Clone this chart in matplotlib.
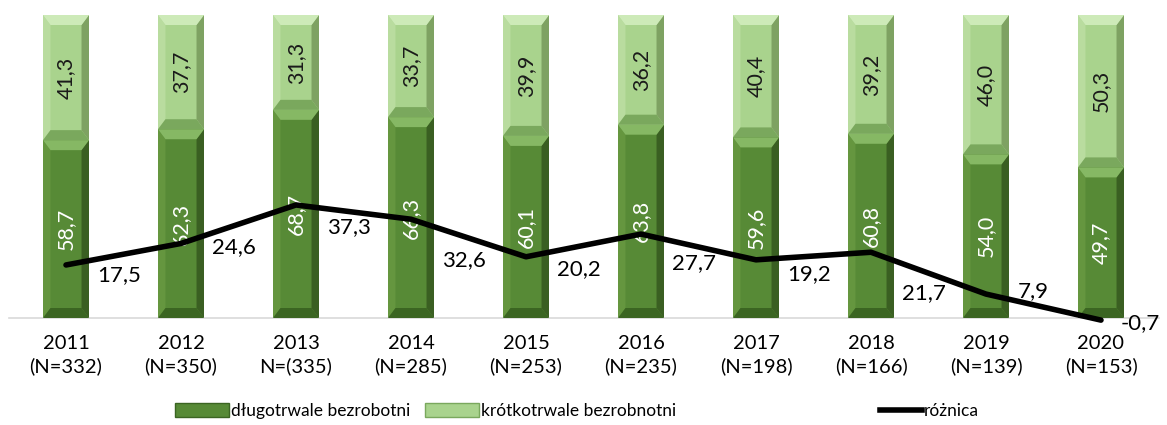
import matplotlib
matplotlib.use("Agg")
import matplotlib.pyplot as plt
from matplotlib.patches import Polygon, Patch
from matplotlib.lines import Line2D
import numpy as np

years = ["2011", "2012", "2013", "2014", "2015", "2016", "2017", "2018", "2019", "2020"]
n_labels = ["(N=332)", "(N=350)", "N=(335)", "(N=285)", "(N=253)", "(N=235)", "(N=198)", "(N=166)", "(N=139)", "(N=153)"]
long_term = [58.7, 62.3, 68.7, 66.3, 60.1, 63.8, 59.6, 60.8, 54.0, 49.7]
short_term = [41.3, 37.7, 31.3, 33.7, 39.9, 36.2, 40.4, 39.2, 46.0, 50.3]
difference = [17.5, 24.6, 37.3, 32.6, 20.2, 27.7, 19.2, 21.7, 7.9, -0.7]

# label offsets (pixels) for the difference labels
diff_dx = [31, 31, 31, 31, 31, 31, 31, 31, 32, 20]
diff_dy = [10, 4, 22, 41, 12, 29, 14, 41, -3, 3]

plt.rcParams['font.family'] = ['Lato', 'DejaVu Sans']

W, H = 1167, 425
fig = plt.figure(figsize=(W / 100, H / 100), dpi=100)
ax = fig.add_axes([8.5 / W, 107 / H, 1150 / W, 303 / H])

x = np.arange(len(years))
bw = 0.4
dark = "#578a36"
light = "#a9d38d"

b1 = ax.bar(x, long_term, bw, color=dark, zorder=2)
b2 = ax.bar(x, short_term, bw, bottom=long_term, color=light, zorder=2)

# bevel effect
bx = 0.065   # horizontal bevel in data units
by = 3.3     # vertical bevel in data units

def bevel(rect, top_c, bot_c, left_c, right_c):
    x0, y0 = rect.get_x(), rect.get_y()
    w, h = rect.get_width(), rect.get_height()
    x1, y1 = x0 + w, y0 + h
    polys = [
        ([(x0, y0), (x0, y1), (x0 + bx, y1 - by), (x0 + bx, y0 + by)], left_c),
        ([(x1, y0), (x1, y1), (x1 - bx, y1 - by), (x1 - bx, y0 + by)], right_c),
        ([(x0, y1), (x1, y1), (x1 - bx, y1 - by), (x0 + bx, y1 - by)], top_c),
        ([(x0, y0), (x1, y0), (x1 - bx, y0 + by), (x0 + bx, y0 + by)], bot_c),
    ]
    for pts, c in polys:
        ax.add_patch(Polygon(pts, closed=True, facecolor=c, edgecolor='none', zorder=3))

for r in b1:
    bevel(r, "#86b864", "#3b6522", "#65963f", "#3a5f22")
for r in b2:
    bevel(r, "#cdeab8", "#7aa85d", "#b9dc9f", "#7ea262")

# value labels inside bars
for i in range(len(years)):
    ax.text(x[i], long_term[i] / 2, f"{long_term[i]:.1f}".replace('.', ','),
            rotation=90, ha='center', va='center', color='white', fontsize=15.5, zorder=5)
    ax.text(x[i], long_term[i] + short_term[i] / 2, f"{short_term[i]:.1f}".replace('.', ','),
            rotation=90, ha='center', va='center', color='#1a1a1a', fontsize=15.5, zorder=5)

# difference line
ax.plot(x, difference, color='black', lw=4, zorder=6, clip_on=False, solid_capstyle='round')
for i in range(len(years)):
    ax.annotate(f"{difference[i]:.1f}".replace('.', ','), xy=(x[i], difference[i]),
                xytext=(diff_dx[i] * 0.72, -diff_dy[i] * 0.72), textcoords='offset points',
                ha='left', va='center', fontsize=16, color='black', zorder=7,
                annotation_clip=False)

ax.set_xlim(-0.5, len(years) - 0.5)
ax.set_ylim(0, 100)
ax.set_yticks([])
ax.set_xticks(x)
ax.set_xticklabels([f"{y}\n{n}" for y, n in zip(years, n_labels)], fontsize=14.5, linespacing=1.4)
ax.tick_params(axis='x', length=0, pad=12)
for s in ['top', 'left', 'right']:
    ax.spines[s].set_visible(False)
ax.spines['bottom'].set_color('#d9d9d9')
ax.spines['bottom'].set_linewidth(1.2)
ax.patch.set_alpha(0)

leg_items = [
    (Patch(facecolor=dark, edgecolor='#3b6522'), "długotrwale bezrobotni", 175, 3.1),
    (Patch(facecolor=light, edgecolor='#7aa85d'), "krótkotrwale bezrobnotni", 425, 3.1),
    (Line2D([0], [0], color='black', lw=4), "różnica", 880, 2.4),
]
for h, lab, px, hl in leg_items:
    leg = fig.legend([h], [lab], loc='center left', bbox_to_anchor=(px / W, 14 / H),
                     frameon=False, fontsize=12.5, handlelength=hl, handleheight=0.8,
                     handletextpad=0.1, borderpad=0, borderaxespad=0)

fig.savefig("out.png", dpi=100)
